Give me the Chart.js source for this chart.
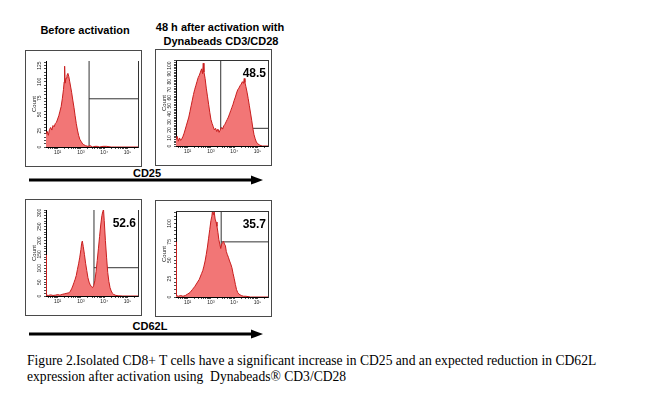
<!DOCTYPE html>
<html>
<head>
<meta charset="utf-8">
<script src="https://cdn.jsdelivr.net/npm/chart.js@4.4.1/dist/chart.umd.min.js"></script>
<style>
  body { margin: 0; width: 650px; height: 399px; background: #fff; overflow: hidden; position: relative; }
  .panel { position: absolute; width: 117px; height: 117px; border: 1px solid #4a4a4a; box-sizing: border-box; background: #fff; }
  .panel canvas { display: block; }
  svg { position: absolute; left: 0; top: 0; }
</style>
</head>
<body>
<svg width="650" height="399" font-family="Liberation Sans, Arial, sans-serif">
  <text x="85" y="34" font-size="11" font-weight="bold" text-anchor="middle">Before activation</text>
  <text x="220" y="31" font-size="11" font-weight="bold" text-anchor="middle">48 h after activation with</text>
  <text x="221" y="45" font-size="11" font-weight="bold" text-anchor="middle">Dynabeads CD3/CD28</text>
  <text x="147" y="177" font-size="11" font-weight="bold" text-anchor="middle">CD25</text>
  <line x1="29" y1="180" x2="254" y2="180" stroke="#000" stroke-width="3"/>
  <polygon points="251,175.5 263,180 251,184.5" fill="#000"/>
  <text x="150" y="329.5" font-size="11" font-weight="bold" text-anchor="middle">CD62L</text>
  <line x1="29" y1="334" x2="254" y2="334" stroke="#000" stroke-width="3"/>
  <polygon points="251,329.5 263,334 251,338.5" fill="#000"/>
  <text x="27" y="365" font-size="13.6" font-family="Liberation Serif, Times New Roman, serif" style="white-space:pre">Figure 2.Isolated CD8+ T cells have a significant increase in CD25 and an expected reduction in CD62L</text>
  <text x="27" y="381" font-size="13.6" font-family="Liberation Serif, Times New Roman, serif" style="white-space:pre">expression after activation using  Dynabeads® CD3/CD28</text>
</svg>
<div class="panel" style="left:25px;top:50px"><canvas id="p1" width="115" height="115"></canvas></div>
<div class="panel" style="left:155px;top:49px"><canvas id="p2" width="115" height="115"></canvas></div>
<div class="panel" style="left:25px;top:199px"><canvas id="p3" width="115" height="115"></canvas></div>
<div class="panel" style="left:155px;top:200px"><canvas id="p4" width="115" height="115"></canvas></div>
<script>
// x values are log10 of the fluorescence channel
const decades = [2, 3, 4, 5];
const decadeLabels = ['10²', '10³', '10⁴', '10⁵'];
const xMin = 1.5;
const xMax = 5.45;

// CD25, before activation
const cd25BeforeX = [1.50,1.55,1.60,1.65,1.70,1.75,1.80,1.85,1.90,1.95,2.00,2.05,2.10,2.15,2.20,2.25,2.28,2.30,2.32,2.36,2.40,2.44,2.48,2.52,2.56,2.60,2.65,2.70,2.75,2.80,2.85,2.90,2.95,3.00,3.05,3.10,3.20,3.30,3.40,3.50,3.60,3.70,3.80,3.95,4.10,4.30,5.45];
const cd25BeforeCount = [20,24,18,27,30,26,33,31,36,38,43,48,55,62,74,88,100,124,98,106,110,113,108,100,92,84,72,61,48,36,26,18,12,9,6,4,2,1,2,0,1,1,0,1,1,0,0];

// CD25, 48 h after activation
const cd25AfterX = [1.50,1.55,1.60,1.65,1.70,1.75,1.80,1.85,1.90,1.95,2.00,2.05,2.10,2.15,2.20,2.25,2.30,2.35,2.40,2.45,2.50,2.55,2.60,2.64,2.67,2.70,2.75,2.80,2.85,2.90,2.95,3.00,3.05,3.10,3.15,3.20,3.25,3.30,3.35,3.40,3.45,3.50,3.55,3.60,3.65,3.70,3.75,3.80,3.85,3.90,3.95,4.00,4.05,4.10,4.15,4.20,4.25,4.30,4.35,4.40,4.43,4.46,4.50,4.55,4.60,4.65,4.70,4.75,4.80,4.85,4.90,4.95,5.00,5.10,5.20,5.45];
const cd25AfterCount = [8,12,6,10,7,9,12,16,21,26,31,36,43,50,57,64,70,75,80,85,88,92,96,90,103,92,84,72,62,52,42,33,28,24,20,22,18,21,17,20,23,21,25,27,30,33,36,40,44,48,52,57,61,66,70,72,75,77,80,78,84,79,74,67,59,50,41,32,22,14,9,5,3,1,0,0];

// CD62L, before activation
const cd62lBeforeX = [1.50,1.52,1.60,1.70,1.80,1.90,2.00,2.10,2.20,2.30,2.40,2.45,2.50,2.55,2.60,2.65,2.70,2.75,2.80,2.85,2.90,2.95,3.00,3.03,3.06,3.10,3.15,3.20,3.25,3.30,3.35,3.40,3.45,3.50,3.55,3.60,3.65,3.70,3.75,3.80,3.85,3.90,3.94,3.97,4.00,4.05,4.10,4.15,4.20,4.25,4.30,4.35,4.40,4.50,4.60,4.80,5.45];
const cd62lBeforeCount = [148,3,2,4,2,3,5,3,6,8,10,11,12,18,26,36,48,60,74,96,116,140,168,190,198,178,150,118,92,66,50,40,34,30,38,56,88,128,170,214,256,290,305,312,272,200,140,85,52,30,18,10,6,2,1,0,0];

// CD62L, 48 h after activation
const cd62lAfterX = [1.50,1.52,1.60,1.70,1.80,1.90,2.00,2.10,2.20,2.30,2.40,2.50,2.60,2.65,2.70,2.75,2.80,2.85,2.90,2.95,3.00,3.04,3.07,3.10,3.14,3.18,3.22,3.26,3.30,3.34,3.38,3.42,3.46,3.50,3.54,3.58,3.62,3.66,3.70,3.75,3.80,3.85,3.90,3.95,4.00,4.05,4.10,4.15,4.20,4.30,4.40,4.50,4.70,5.45];
const cd62lAfterCount = [75,2,1,2,1,2,4,6,10,14,19,24,32,36,42,49,58,68,80,92,104,110,118,112,116,106,102,96,88,78,72,66,72,74,76,72,70,62,58,54,49,45,40,32,25,17,10,6,4,2,1,1,0,0];

// per panel: p1 CD25 before, p2 CD25 after, p3 CD62L before, p4 CD62L after
const gateStart = [3.35, 3.42, 3.56, 3.44];
const gateLevel = [74, 22, 102, 75];
const gatePercent = ['', '48.5', '52.6', '35.7'];
const countMax = [132, 107, 310, 117];
const countStep = [25, 10, 50, 25];

const panelDecor = {
  id: 'panelDecor',
  afterDatasetsDraw(chart, args, opts) {
    const { ctx, chartArea: a } = chart;
    ctx.save();
    ctx.strokeStyle = '#333';
    ctx.lineWidth = 1;
    ctx.beginPath();
    ctx.moveTo(Math.round(a.right) + 0.5, a.top);
    ctx.lineTo(Math.round(a.right) + 0.5, a.bottom);
    if (opts.top) {
      ctx.moveTo(a.left, Math.round(a.top) + 0.5);
      ctx.lineTo(a.right, Math.round(a.top) + 0.5);
    }
    ctx.stroke();
    if (opts.label) {
      ctx.fillStyle = '#000';
      ctx.font = 'bold 12px "Liberation Sans", Arial, sans-serif';
      ctx.textAlign = 'right';
      ctx.fillText(opts.label, a.right - 2, a.top + 17);
    }
    ctx.restore();
  }
};

function points(xs, ys) {
  return xs.map((x, i) => ({ x: x, y: ys[i] }));
}

function makePanel(id, xs, counts, i, topLine) {
  const step = countStep[i];
  new Chart(document.getElementById(id), {
    type: 'scatter',
    data: {
      datasets: [
        {
          data: points(xs, counts),
          showLine: true,
          fill: 'origin',
          backgroundColor: 'rgb(242,118,118)',
          borderColor: '#c81e1e',
          borderWidth: 1,
          pointRadius: 0,
          tension: 0
        },
        {
          data: [{ x: gateStart[i], y: 0 }, { x: gateStart[i], y: countMax[i] }],
          showLine: true,
          borderColor: '#333',
          borderWidth: 1,
          pointRadius: 0
        },
        {
          data: [{ x: gateStart[i], y: gateLevel[i] }, { x: xMax, y: gateLevel[i] }],
          showLine: true,
          borderColor: '#333',
          borderWidth: 1,
          pointRadius: 0
        }
      ]
    },
    options: {
      responsive: false,
      animation: false,
      events: [],
      layout: { padding: { top: 10, right: 3, left: 0, bottom: 0 } },
      plugins: {
        legend: { display: false },
        tooltip: { enabled: false },
        panelDecor: { top: topLine, label: gatePercent[i] }
      },
      scales: {
        x: {
          type: 'linear',
          min: xMin,
          max: xMax,
          afterBuildTicks: s => {
            const t = [];
            for (let n = 1; n <= 5; n++) {
              for (let k = 1; k <= 9; k++) {
                const v = n + Math.log10(k);
                if (v >= xMin && v <= xMax) t.push({ value: v });
              }
            }
            s.ticks = t;
          },
          afterFit: s => { s.height = 19; },
          ticks: {
            autoSkip: false,
            maxRotation: 0,
            padding: 1,
            font: { size: 5, family: 'Liberation Sans' },
            color: '#222',
            callback: v => {
              const j = decades.findIndex(d => Math.abs(d - v) < 1e-6);
              return j >= 0 ? decadeLabels[j] : '';
            }
          },
          grid: { drawOnChartArea: false, drawTicks: true, tickLength: 2, color: '#000', lineWidth: 0.7 },
          border: { display: true, color: '#000', width: 1 }
        },
        y: {
          min: 0,
          max: countMax[i],
          afterFit: s => { s.width = 20; },
          title: { display: true, text: 'Count', font: { size: 6, family: 'Liberation Sans' }, color: '#222', padding: { top: 5, bottom: 0 } },
          ticks: {
            stepSize: step / 5,
            autoSkip: false,
            includeBounds: false,
            padding: 0,
            minRotation: 90,
            maxRotation: 90,
            crossAlign: 'center',
            font: { size: 5, family: 'Liberation Sans' },
            color: '#222',
            callback: v => (v % step === 0 ? String(v) : '')
          },
          grid: { drawOnChartArea: false, drawTicks: true, tickLength: 2, color: '#000', lineWidth: 0.7 },
          border: { display: true, color: '#000', width: 1 }
        }
      }
    },
    plugins: [panelDecor]
  });
}

makePanel('p1', cd25BeforeX, cd25BeforeCount, 0, false);
makePanel('p2', cd25AfterX, cd25AfterCount, 1, true);
makePanel('p3', cd62lBeforeX, cd62lBeforeCount, 2, false);
makePanel('p4', cd62lAfterX, cd62lAfterCount, 3, true);
</script>
</body>
</html>
